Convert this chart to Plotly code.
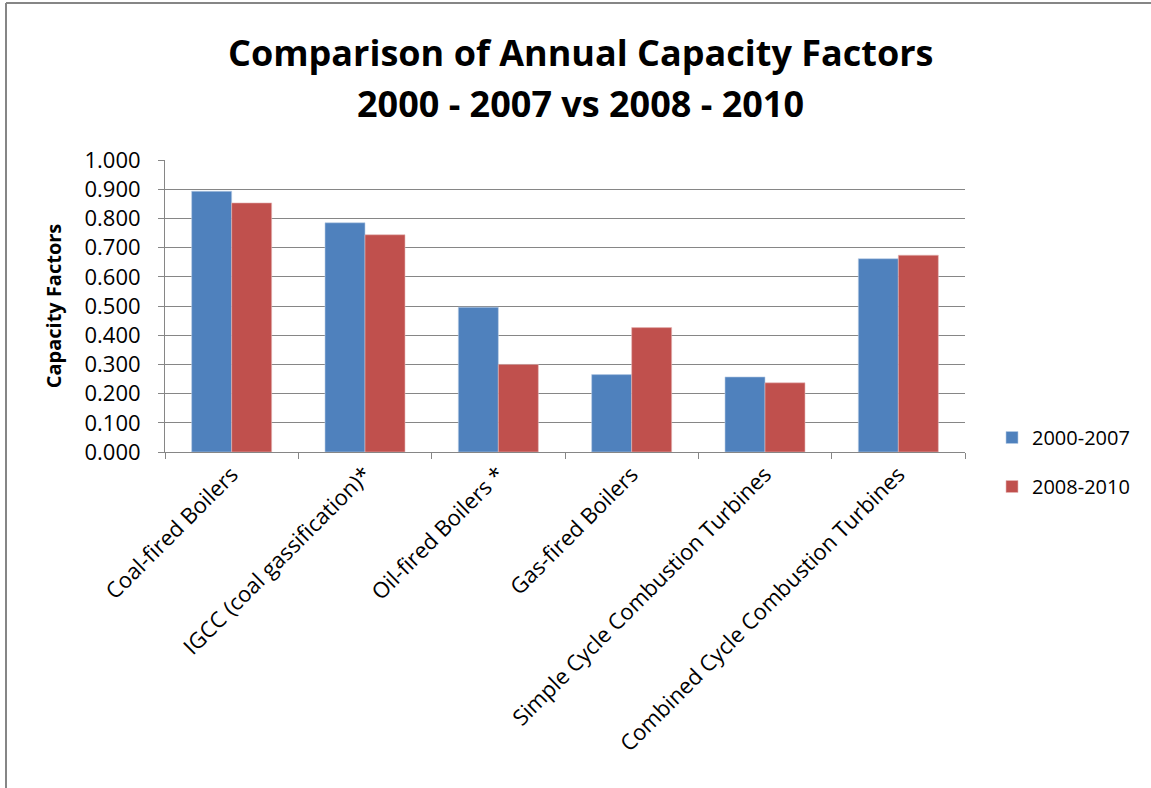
import plotly.graph_objects as go

categories = ["Coal-fired Boilers", "IGCC (coal gassification)*", "Oil-fired Boilers *",
              "Gas-fired Boilers", "Simple Cycle Combustion Turbines",
              "Combined Cycle Combustion Turbines"]
series_2000_2007 = [0.893, 0.785, 0.496, 0.265, 0.257, 0.662]
series_2008_2010 = [0.853, 0.744, 0.300, 0.426, 0.237, 0.674]
y_ticks = [0.0, 0.1, 0.2, 0.3, 0.4, 0.5, 0.6, 0.7, 0.8, 0.9, 1.0]
y_tick_labels = ["%.3f" % v for v in y_ticks]

W, H = 1151, 788
L, R, T, B = 165, 965, 160, 452
PW, PH = R - L, B - T
FONT = "Open Sans, Noto Sans, Liberation Sans, sans-serif"


def px(xp):
    return (xp - L) / PW


def py(yp):
    return (B - yp) / PH


fig = go.Figure()
fig.add_trace(go.Bar(name="2000-2007", x=categories, y=series_2000_2007,
                     marker=dict(color="#4F81BD", line=dict(color="#B9CDE5", width=0.6)),
                     legendgroup="a"))
fig.add_trace(go.Bar(name="2008-2010", x=categories, y=series_2008_2010,
                     marker=dict(color="#C0504D", line=dict(color="#E6B9B8", width=0.6)),
                     legendgroup="b"))

fig.update_layout(
    width=W, height=H,
    margin=dict(l=L, r=W - R, t=T, b=H - B, autoexpand=False),
    paper_bgcolor="white", plot_bgcolor="white",
    barmode="group", bargap=0.4, bargroupgap=0.0,
    font=dict(family=FONT, color="#000000", size=16),
    showlegend=True,
    legend=dict(x=px(992), y=py(418),
                xanchor="left", yanchor="top", font=dict(size=20, family=FONT),
                traceorder="grouped", tracegroupgap=20, itemwidth=30),
)
fig.update_xaxes(
    showline=True, linecolor="#868686", linewidth=1,
    ticks="outside", tickson="boundaries", ticklen=6, tickcolor="#868686",
    tickangle=-45, tickfont=dict(size=22, family=FONT),
    showgrid=False,
)
fig.update_yaxes(
    range=[0, 1.0], tickvals=y_ticks, ticktext=y_tick_labels,
    showline=True, linecolor="#868686", linewidth=1,
    ticks="outside", ticklen=6, tickcolor="#868686",
    showgrid=True, gridcolor="#868686", gridwidth=1,
    tickfont=dict(size=22, family=FONT), ticklabelstandoff=13,
    title=dict(text="<b>Capacity Factors</b>", font=dict(size=20, family=FONT), standoff=17),
)

# title lines
fig.add_annotation(xref="paper", yref="paper", x=px(580), y=py(52),
                   text="<b>Comparison of Annual Capacity Factors</b>", showarrow=False,
                   font=dict(size=36, family=FONT), xanchor="center", yanchor="middle")
fig.add_annotation(xref="paper", yref="paper", x=px(580), y=py(103),
                   text="<b>2000 - 2007 vs 2008 - 2010</b>", showarrow=False,
                   font=dict(size=36, family=FONT), xanchor="center", yanchor="middle")

# chart border (top and left edges only visible)
fig.add_shape(type="line", xref="paper", yref="paper",
              x0=px(6), x1=px(1151), y0=py(3), y1=py(3),
              line=dict(color="#868686", width=2))
fig.add_shape(type="line", xref="paper", yref="paper",
              x0=px(6), x1=px(6), y0=py(3), y1=py(800),
              line=dict(color="#868686", width=2))

fig.write_html("out.html")
